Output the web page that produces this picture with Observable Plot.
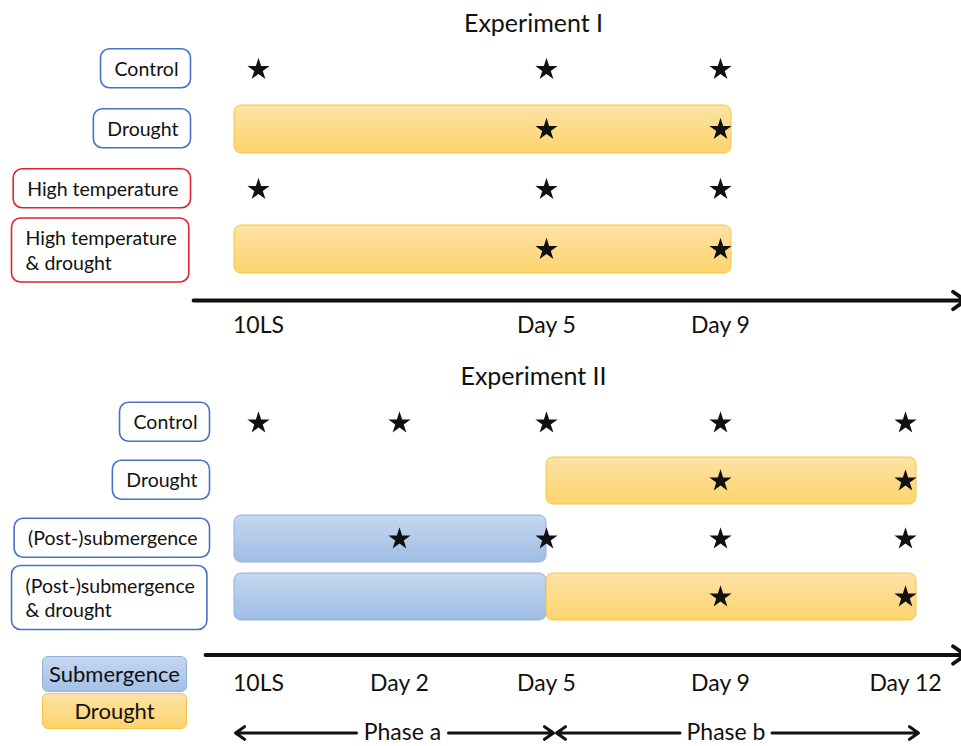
<!DOCTYPE html>
<html>
<head>
<meta charset="utf-8">
<script src="https://cdn.jsdelivr.net/npm/d3@7"></script>
<script src="https://cdn.jsdelivr.net/npm/@observablehq/plot@0.6"></script>
<style>
  body { margin: 0; background: #fff; font-family: Lato, "Open Sans", sans-serif; color: #111; }
  #wrap { position: relative; width: 961px; height: 746px; overflow: hidden; }
  .title { width: 961px; box-sizing: border-box; padding-left: 106px; text-align: center; font-size: 25px; }
  #t1 { height: 45px; line-height: 44px; }
  #t2 { height: 55px; padding-top: 8px; line-height: 44px; }
  .lg { position: absolute; left: 42px; width: 145px; height: 36px; line-height: 34px; text-align: center;
        font-size: 22px; border: 1px solid; border-radius: 6px; box-sizing: border-box; }
</style>
</head>
<body>
<svg width="0" height="0" style="position:absolute">
  <defs>
    <linearGradient id="gDrought" x1="0" y1="0" x2="0" y2="1">
      <stop offset="0" stop-color="#fde2a6"/><stop offset="1" stop-color="#fdd46c"/>
    </linearGradient>
    <linearGradient id="gSub" x1="0" y1="0" x2="0" y2="1">
      <stop offset="0" stop-color="#c6d7ef"/><stop offset="1" stop-color="#9fbde5"/>
    </linearGradient>
  </defs>
</svg>
<div id="wrap">
  <div class="title" id="t1">Experiment I</div>
  <div id="p1"></div>
  <div class="title" id="t2">Experiment II</div>
  <div id="p2"></div>
</div>
<script>
// ---------------- data ----------------
// sampling time points in days after the start (10LS = day 0)
const dayValues = [0, 2, 5, 9, 12];

const ticksI = [0, 5, 9];
const tickLabelsI = ["10LS", "Day 5", "Day 9"];
const ticksII = [0, 2, 5, 9, 12];
const tickLabelsII = ["10LS", "Day 2", "Day 5", "Day 9", "Day 12"];

const treatmentsI = ["Control", "Drought", "High temperature", "High temperature\n& drought"];
const treatmentsII = ["Control", "Drought", "(Post-)submergence", "(Post-)submergence\n& drought"];

// sampling days (stars) per treatment, same order as treatments
const samplingI = [[0, 5, 9], [5, 9], [0, 5, 9], [5, 9]];
const samplingII = [[0, 2, 5, 9, 12], [9, 12], [2, 5, 9, 12], [9, 12]];

// stress periods
const stressI = [
  {row: "Drought", stress: "Drought", start: 0, end: 9},
  {row: "High temperature\n& drought", stress: "Drought", start: 0, end: 9}
];
const stressII = [
  {row: "Drought", stress: "Drought", start: 5, end: 12},
  {row: "(Post-)submergence", stress: "Submergence", start: 0, end: 5},
  {row: "(Post-)submergence\n& drought", stress: "Submergence", start: 0, end: 5},
  {row: "(Post-)submergence\n& drought", stress: "Drought", start: 5, end: 12}
];

const phasesII = [
  {name: "Phase a", start: 0, end: 5},
  {name: "Phase b", start: 5, end: 12}
];

const stressTypes = ["Submergence", "Drought"];

// ---------------- styles / layout ----------------
const xRange = [258, 399, 546, 720, 905];
const xPix = d3.scaleLinear(dayValues, xRange);
const stressFill = {Drought: "url(#gDrought)", Submergence: "url(#gSub)"};
const stressStroke = {Drought: "#f5c544", Submergence: "#8fb1dd"};
const stressBg = {Drought: "linear-gradient(#fde2a6,#fdd46c)", Submergence: "linear-gradient(#c6d7ef,#a3c0e6)"};
const phaseInsets = [[-23, -7], [10, -13]];

function panel(cfg) {
  const {rows, ticks, tickLabels, sampling, stress, phases = [], height, yRange, paddingInner,
         axisDy, tickDy, phaseDy, labelRight, axisInsetStart, axisInsetEnd} = cfg;
  const last = ticks[ticks.length - 1];
  const starData = rows.flatMap((r, i) => sampling[i].map(day => ({row: r, day})));
  const tickData = ticks.map((day, i) => ({day, label: tickLabels[i]}));
  const marks = [];
  stress.forEach(b => marks.push(Plot.barX([b], {
    x1: "start", x2: "end", y: "row",
    fill: stressFill[b.stress], stroke: stressStroke[b.stress], strokeWidth: 1,
    rx: 7, insetLeft: b.start === ticks[0] ? -24 : 0, insetRight: b.end === last ? -11 : 0
  })));
  marks.push(Plot.dot(starData, {x: "day", y: "row", symbol: "star", r: 7, fill: "#111", stroke: "none"}));
  marks.push(Plot.text(rows.filter(r => !r.includes("\n")), {
    y: d => d, text: d => d, frameAnchor: "left", textAnchor: "end", dx: labelRight,
    fontSize: 19.5, fill: "#111"
  }));
  marks.push(Plot.text(rows.filter(r => r.includes("\n")), {
    y: d => d, text: d => d, frameAnchor: "left", textAnchor: "start", dx: 25,
    fontSize: 19.5, lineHeight: 1.28, fill: "#111"
  }));
  marks.push(Plot.arrow([{from: ticks[0], to: last}], {
    x1: "from", x2: "to", y1: () => "timeline", y2: () => "timeline", dy: axisDy,
    insetStart: axisInsetStart, insetEnd: axisInsetEnd, stroke: "#111", strokeWidth: 3.8,
    headLength: 6, headAngle: 70
  }));
  marks.push(Plot.text(tickData, {x: "day", y: () => "timeline", text: "label", dy: tickDy, fontSize: 23, fill: "#111"}));
  const mid = d => xPix.invert((xPix(d.start) + xPix(d.end)) / 2);
  phases.forEach((p, i) => {
    marks.push(Plot.text([p], {x: mid, y: () => "timeline", text: "name", dy: phaseDy, fontSize: 23, fill: "#111"}));
    marks.push(Plot.arrow([p], {x1: mid, x2: "start", y1: () => "timeline", y2: () => "timeline", dy: phaseDy,
      insetStart: 46, insetEnd: phaseInsets[i][0], stroke: "#111", strokeWidth: 3, headLength: 5.5, headAngle: 70}));
    marks.push(Plot.arrow([p], {x1: mid, x2: "end", y1: () => "timeline", y2: () => "timeline", dy: phaseDy,
      insetStart: 46, insetEnd: phaseInsets[i][1], stroke: "#111", strokeWidth: 3, headLength: 5.5, headAngle: 70}));
  });
  return Plot.plot({
    width: 961, height, margin: 0,
    style: {fontFamily: "Lato, 'Open Sans', sans-serif", background: "transparent", overflow: "visible"},
    x: {type: "linear", domain: dayValues, range: xRange, axis: null},
    y: {type: "band", domain: [...rows, "timeline"], range: yRange, paddingInner, paddingOuter: 0.1, axis: null},
    marks
  });
}

function addBoxes(svg, rows) {
  const sb = svg.getBoundingClientRect();
  const texts = Array.from(svg.querySelectorAll("text"));
  const keys = rows.map(r => r.replace("\n", ""));
  texts.forEach(t => {
    const k = t.textContent;
    if (!keys.includes(k)) return;
    const r = t.getBoundingClientRect();
    const red = k.startsWith("High temperature");
    const rect = document.createElementNS("http://www.w3.org/2000/svg", "rect");
    rect.setAttribute("x", r.left - sb.left - 14);
    rect.setAttribute("y", r.top - sb.top - 8);
    rect.setAttribute("width", r.width + 26);
    rect.setAttribute("height", r.height + 16);
    rect.setAttribute("rx", 9);
    rect.setAttribute("fill", "#fff");
    rect.setAttribute("stroke", red ? "#e3212f" : "#4472c4");
    rect.setAttribute("stroke-width", 1.6);
    const g = t.parentNode;
    g.parentNode.insertBefore(rect, g);
  });
}

const svg1 = panel({
  rows: treatmentsI, ticks: ticksI, tickLabels: tickLabelsI, sampling: samplingI, stress: stressI,
  height: 300, yRange: [-6, 294], paddingInner: 0.2,
  axisDy: -9, tickDy: 16, labelRight: 178, axisInsetStart: -65, axisInsetEnd: -245
});
document.getElementById("p1").appendChild(svg1);
addBoxes(svg1, treatmentsI);

const svg2 = panel({
  rows: treatmentsII, ticks: ticksII, tickLabels: tickLabelsII, sampling: samplingII, stress: stressII,
  phases: phasesII, height: 346, yRange: [-8.35, 284.3], paddingInner: 0.197,
  axisDy: 0, tickDy: 29, phaseDy: 78, labelRight: 197, axisInsetStart: -53, axisInsetEnd: -60
});
document.getElementById("p2").appendChild(svg2);
addBoxes(svg2, treatmentsII);

// legend
const wrap = document.getElementById("wrap");
stressTypes.forEach((s, i) => {
  const d = document.createElement("div");
  d.className = "lg";
  d.style.top = (656 + i * 37) + "px";
  d.style.background = stressBg[s];
  d.style.borderColor = stressStroke[s];
  d.textContent = s;
  wrap.appendChild(d);
});
</script>
</body>
</html>
